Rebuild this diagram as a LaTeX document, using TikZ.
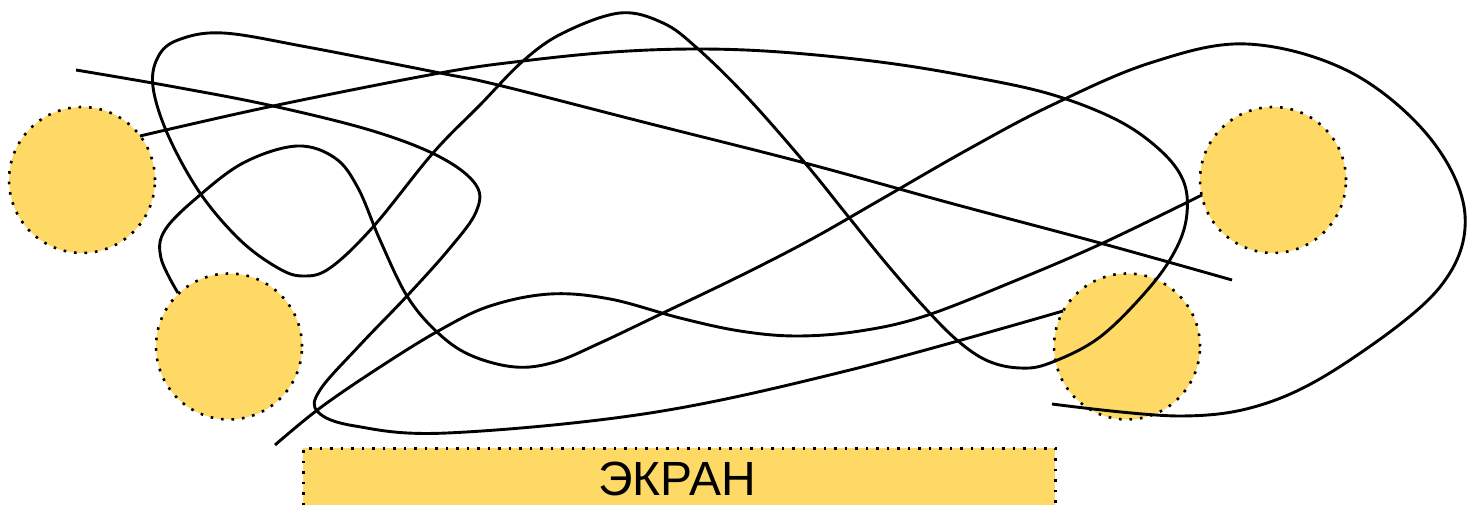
\documentclass[tikz,border=0pt]{standalone}
\usepackage{fontspec}
\setmainfont{Liberation Sans}
\definecolor{spotyellow}{HTML}{FED966}
\begin{document}
\begin{tikzpicture}[x=1pt,y=-1pt,
  spot/.style={circle, fill=spotyellow, draw=black, line width=2.6pt,
    dash pattern=on 2.6pt off 7.9pt, minimum size=146pt, inner sep=0pt},
  screenbox/.style={rectangle, fill=spotyellow, draw=black, line width=2.6pt,
    dash pattern=on 2.6pt off 7.9pt, minimum width=752pt, minimum height=90pt,
    inner sep=0pt, anchor=north west},
  wire/.style={line width=2.9pt, line join=round},
  smoothwire/.style={wire, smooth, tension=0.6}]
\useasboundingbox (0,0) rectangle (1467,505);
\clip (0,0) rectangle (1467,505);
\fill[white] (0,0) rectangle (1467,505);
% spots
\node[spot] (c1) at (82,180) {};
\node[spot] (c2) at (229,346.5) {};
\node[spot] (c3) at (1273,180) {};
\node[spot] (c4) at (1127,346.5) {};
% screen
\node[screenbox] (scr) at (302,447) {};
\node[font=\fontsize{48}{48}\selectfont, anchor=base] (lbl) at (677,495) {ЭКРАН};
% curve A
\draw[smoothwire] plot coordinates {(76,70) (175,87) (273,106) (373,131) (440,157)
  (476,185) (476,212) (450,248) (407,296) (360,345) (320,390) (318,412) (355,426)
  (447,433) (650,413) (850,370) (1063,311)};
% curve B
\draw[smoothwire] plot coordinates {(275,445) (320,408) (380,367) (440,330) (490,306)
  (550,294) (610,299) (680,318) (740,331) (797,336) (860,331) (925,316) (1017,280)
  (1103,243) (1202,195)};
% curve C
\draw[smoothwire] plot coordinates {(140,136) (273,106) (440,73) (523,61) (613,52)
  (697,49) (780,52) (880,62) (967,76) (1050,94) (1117,120) (1160,150) (1183,180)
  (1187,213) (1177,247) (1150,287) (1100,337) (1050,363) (1020,368) (988,361)
  (958,341) (925,308) (885,262) (847,215) (805,163) (747,97) (697,48) (663,23) (620,13)
  (563,33) (523,61) (480,105) (433,153) (373,227) (330,268) (303,276) (278,268)
  (240,240) (200,193) (168,135) (153,87) (158,57) (178,40) (223,33) (307,47) (440,73)
  (498,85) (647,123) (805,163) (950,203) (1100,243) (1232,280)};
% curve D
\draw[smoothwire] plot coordinates {(178,293) (161,258) (165,230) (200,195) (245,162)
  (297,146) (335,158) (358,188) (380,240) (407,296) (437,332) (470,355) (515,367)
  (555,362) (600,343) (663,313) (740,276) (810,240) (880,200) (967,150) (1050,106)
  (1150,63) (1247,44) (1350,72) (1430,138) (1465,215) (1440,287) (1350,360)
  (1267,403) (1180,416) (1052,404)};
\end{tikzpicture}
\end{document}
